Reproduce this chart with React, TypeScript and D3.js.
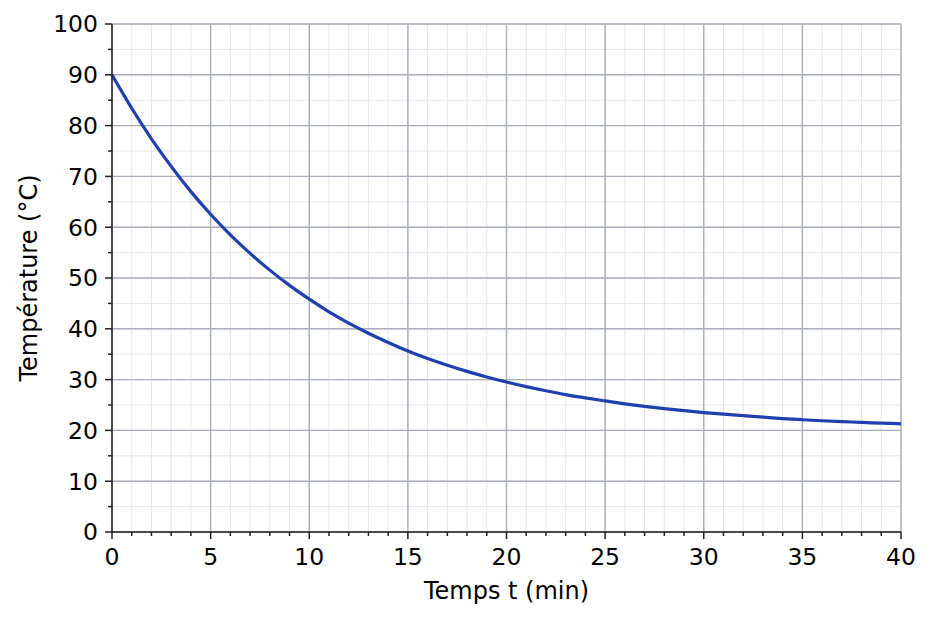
import * as d3 from 'd3';
import React from 'react';

// temperature readings (°C), one per minute
const times = [
  0, 1, 2, 3, 4, 5, 6, 7, 8, 9, 10, 11, 12, 13, 14, 15, 16, 17, 18, 19, 20, 21, 22, 23, 24, 25, 26, 27, 28, 29, 30,
  31, 32, 33, 34, 35, 36, 37, 38, 39, 40,
];
const temps = [
  90, 83.3, 77.3, 71.9, 66.9, 62.5, 58.4, 54.8, 51.5, 48.5, 45.8, 43.3, 41.1, 39.1, 37.3, 35.6, 34.1, 32.8, 31.6,
  30.5, 29.5, 28.6, 27.8, 27.0, 26.4, 25.8, 25.2, 24.7, 24.3, 23.9, 23.5, 23.2, 22.9, 22.6, 22.3, 22.1, 21.9, 21.7,
  21.6, 21.4, 21.3,
];
const xTicks = [0, 5, 10, 15, 20, 25, 30, 35, 40];
const yTicks = [0, 10, 20, 30, 40, 50, 60, 70, 80, 90, 100];
const xMinor = d3.range(0, 41, 1);
const yMinor = d3.range(0, 101, 5);

export default function App() {
  const w = 933;
  const h = 620;
  const left = 112;
  const right = 901;
  const top = 24;
  const bottom = 532;
  const font = 'DejaVu Sans, sans-serif';

  const xScale = d3.scaleLinear().domain([0, 40]).range([left, right]);
  const yScale = d3.scaleLinear().domain([0, 100]).range([bottom, top]);

  const line = d3
    .line<number>()
    .x((_, i) => xScale(times[i]))
    .y((d) => yScale(d))
    .curve(d3.curveBasis);

  return (
    <svg width={w} height={h} style={{ position: 'absolute', left: 0, top: 0, background: 'white' }}>
      <g>
        {xMinor.map((t) => (
          <line key={'xm' + t} x1={xScale(t)} x2={xScale(t)} y1={top} y2={bottom} stroke='#e3e5ea' strokeWidth={1} />
        ))}
        {yMinor.map((t) => (
          <line key={'ym' + t} x1={left} x2={right} y1={yScale(t)} y2={yScale(t)} stroke='#e3e5ea' strokeWidth={1} />
        ))}
        {xTicks.map((t) => (
          <line key={'xg' + t} x1={xScale(t)} x2={xScale(t)} y1={top} y2={bottom} stroke='#a8adb9' strokeWidth={1.4} />
        ))}
        {yTicks.map((t) => (
          <line key={'yg' + t} x1={left} x2={right} y1={yScale(t)} y2={yScale(t)} stroke='#a8adb9' strokeWidth={1.4} />
        ))}
      </g>
      <path d={line(temps) ?? ''} fill='none' stroke='#1f3fae' strokeWidth={3.2} strokeLinejoin='round' />
      <g stroke='#222' strokeWidth={1.5}>
        <line x1={left} x2={left} y1={top} y2={bottom} />
        <line x1={left} x2={right} y1={bottom} y2={bottom} />
        {xMinor.map((t) => (
          <line key={'xt' + t} x1={xScale(t)} x2={xScale(t)} y1={bottom} y2={bottom + (t % 5 === 0 ? 7 : 4)} />
        ))}
        {yMinor.map((t) => (
          <line key={'yt' + t} x1={left} x2={left - (t % 10 === 0 ? 7 : 4)} y1={yScale(t)} y2={yScale(t)} />
        ))}
      </g>
      <g fontFamily={font} fontSize={23.5} fill='#000'>
        {xTicks.map((t) => (
          <text key={'xl' + t} x={xScale(t)} y={bottom + 33} textAnchor='middle'>
            {t}
          </text>
        ))}
        {yTicks.map((t) => (
          <text key={'yl' + t} x={left - 14} y={yScale(t) + 8.3} textAnchor='end'>
            {t}
          </text>
        ))}
        <text x={(left + right) / 2} y={599} textAnchor='middle' fontSize={24}>
          Temps t (min)
        </text>
        <text transform={`translate(37, ${(top + bottom) / 2}) rotate(-90)`} textAnchor='middle' fontSize={24}>
          Température (°C)
        </text>
      </g>
    </svg>
  );
}
